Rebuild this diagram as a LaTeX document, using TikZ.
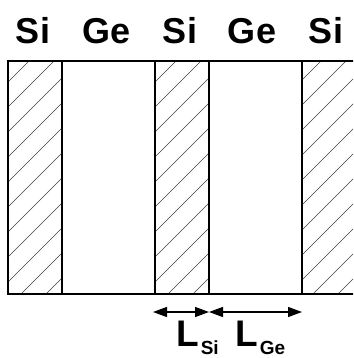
\documentclass[tikz,border=0pt]{standalone}
\usepackage{fontspec}
\setmainfont{Liberation Sans}
\usetikzlibrary{arrows.meta}

\begin{document}
\begin{tikzpicture}[x=1pt, y=-1pt,
    wall/.style={draw=black, line width=1.3pt},
    hatch/.style={draw=black!75, line width=0.6pt},
    lbl/.style={font=\fontsize{36}{40}\selectfont\bfseries, anchor=base, inner sep=0pt},
    dimlbl/.style={font=\fontsize{37}{40}\selectfont\bfseries, anchor=base west, inner sep=0pt},
    dim/.style={{Triangle[length=14pt,width=10pt]}-{Triangle[length=14pt,width=10pt]},
                line width=1.3pt}
  ]
    \useasboundingbox (0,0) rectangle (353,358);
    \clip (0,0) rectangle (353,358);

    % hatched Si layers
    \foreach \xa/\xb/\ph in {8/62/-4, 155/209/-4, 302/356/-6} {
      \begin{scope}
        \clip (\xa,61) rectangle (\xb,294);
        \foreach \k in {0,...,12}
          \draw[hatch] (\xa,61+\ph+25*\k) -- ++(90,-90);
      \end{scope}
    }

    % layer boundaries
    \draw[wall] (8,61) rectangle (358,294);
    \foreach \x in {62,155,209,302}
      \draw[wall] (\x,61) -- (\x,294);

    % material labels
    \node[lbl] (si1) at (33,44)  {Si};
    \node[lbl] (ge1) at (107,44) {Ge};
    \node[lbl] (si2) at (180,44) {Si};
    \node[lbl] (ge2) at (252,44) {Ge};
    \node[lbl] (si3) at (326,44) {Si};

    % thickness markers
    \coordinate (pa) at (153,312);
    \coordinate (pb) at (209,312);
    \coordinate (pc) at (302,312);
    \draw[dim] (pa) -- (pb);
    \draw[dim] (pb) -- (pc);

    \node[dimlbl] (lsi) at (176,346)
      {L\hspace{2pt}\raisebox{-8pt}{\fontsize{19}{22}\selectfont\bfseries Si}};
    \node[dimlbl] (lge) at (235,346)
      {L\hspace{2pt}\raisebox{-8pt}{\fontsize{19}{22}\selectfont\bfseries Ge}};
  \end{tikzpicture}
\end{document}
